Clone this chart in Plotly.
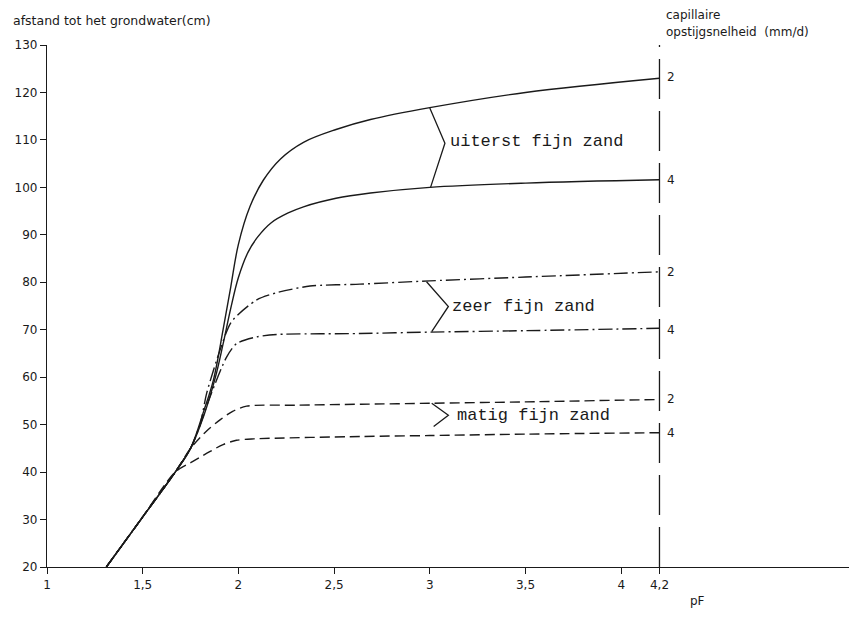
import plotly.graph_objects as go

# ---------------- data ----------------
x_ticks = [1, 1.5, 2, 2.5, 3, 3.5, 4, 4.2]
x_tick_labels = ["1", "1,5", "2", "2,5", "3", "3,5", "4", "4,2"]
y_ticks = [20, 30, 40, 50, 60, 70, 80, 90, 100, 110, 120, 130]

uiterst_2_x = [1.31, 1.49, 1.67, 1.75, 1.82, 1.87, 1.92, 1.96, 2.00, 2.06, 2.13, 2.22, 2.34, 2.51, 2.69, 3.0, 3.5, 4.2]
uiterst_2_y = [20, 30, 40, 45, 53, 59.5, 70, 79, 88, 95.9, 101.5, 106, 109.5, 112.2, 114.3, 116.8, 120, 123]

uiterst_4_x = [1.31, 1.49, 1.67, 1.75, 1.82, 1.88, 1.92, 1.96, 2.00, 2.05, 2.10, 2.17, 2.26, 2.34, 2.51, 2.69, 3.0, 3.5, 4.2]
uiterst_4_y = [20, 30, 40, 45, 52, 60, 67, 74.5, 81, 86.3, 89.5, 92.5, 94.6, 95.9, 97.7, 98.8, 100, 100.9, 101.6]

zeer_2_x = [1.31, 1.49, 1.67, 1.75, 1.80, 1.834, 1.904, 1.964, 2.096, 2.2, 2.374, 2.635, 3.0, 3.5, 4.2]
zeer_2_y = [20, 30, 40, 45, 50, 56.6, 65.7, 71.7, 76.3, 77.8, 79.2, 79.6, 80.3, 81.1, 82.2]

zeer_4_x = [1.31, 1.49, 1.67, 1.75, 1.80, 1.852, 1.939, 1.991, 2.096, 2.2, 2.635, 3.0, 3.5, 4.2]
zeer_4_y = [20, 30, 40, 45, 50, 55.9, 64.3, 67.1, 68.5, 69, 69.2, 69.5, 69.8, 70.3]

matig_2_x = [1.31, 1.49, 1.67, 1.75, 1.83, 1.904, 1.97, 2.043, 2.3, 2.64, 3.0, 3.5, 4.2]
matig_2_y = [20, 30, 40, 45, 48.5, 51, 52.8, 53.9, 54.1, 54.3, 54.5, 54.8, 55.3]

matig_4_x = [1.31, 1.49, 1.67, 1.76, 1.85, 1.92, 1.99, 2.08, 2.64, 3.0, 3.5, 4.2]
matig_4_y = [20, 30, 40, 42.2, 44.3, 45.8, 46.7, 47.0, 47.5, 47.7, 48, 48.3]

brace_uiterst_x = [3.0, 3.079, 3.004]
brace_uiterst_y = [116.7, 109.3, 100]
brace_zeer_x = [2.983, 3.097, 3.01]
brace_zeer_y = [80.1, 74.9, 69.6]
brace_matig_x = [3.01, 3.097, 3.02]
brace_matig_y = [54.5, 52, 49.6]

soil_labels = ["uiterst fijn zand", "zeer fijn zand", "matig fijn zand"]
soil_label_x = [3.095, 3.105, 3.13]
soil_label_y = [109.7, 74.9, 52]

rate_labels = ["2", "4", "2", "4", "2", "4"]
rate_label_y = [123.3, 101.6, 82.2, 70.0, 55.4, 48.2]
x_ref_line = 4.2

# ---------------- figure ----------------
INK = "#1a1a1a"
SANS = "DejaVu Sans, Verdana, sans-serif"
fig = go.Figure()

def curve(x, y, dash, smoothing):
    fig.add_trace(go.Scatter(x=x, y=y, mode="lines",
                             line=dict(color=INK, width=1.4, dash=dash, shape="spline", smoothing=smoothing),
                             showlegend=False, hoverinfo="skip"))

curve(matig_4_x, matig_4_y, "10px,5px", 0.8)
curve(matig_2_x, matig_2_y, "10px,5px", 0.8)
curve(zeer_4_x, zeer_4_y, "14px,4px,2px,4px", 0.7)
curve(zeer_2_x, zeer_2_y, "14px,4px,2px,4px", 0.7)
curve(uiterst_4_x, uiterst_4_y, "solid", 1.0)
curve(uiterst_2_x, uiterst_2_y, "solid", 1.0)

for bx, by in [(brace_uiterst_x, brace_uiterst_y), (brace_zeer_x, brace_zeer_y), (brace_matig_x, brace_matig_y)]:
    fig.add_trace(go.Scatter(x=bx, y=by, mode="lines", line=dict(color=INK, width=1.3),
                             showlegend=False, hoverinfo="skip"))

# vertical reference line at pF 4.2
fig.add_trace(go.Scatter(x=[x_ref_line, x_ref_line], y=[20, 130], mode="lines",
                         line=dict(color=INK, width=1.3, dash="40px,12px"),
                         showlegend=False, hoverinfo="skip"))

for t, x, y in zip(soil_labels, soil_label_x, soil_label_y):
    fig.add_annotation(x=x, y=y, text=t, showarrow=False, xanchor="left", yanchor="middle",
                       font=dict(family="Liberation Mono, Courier New, monospace", size=17, color=INK))

for t, y in zip(rate_labels, rate_label_y):
    fig.add_annotation(x=x_ref_line, y=y, text=t, showarrow=False, xanchor="left", yanchor="middle",
                       xshift=6, font=dict(family=SANS, size=12, color=INK))

# paper-level texts (pixel positions converted to paper coords)
L, T, W, H = 47, 45, 802, 522
def px(xp):
    return (xp - L) / W
def py(yp):
    return (T + H - yp) / H

fig.add_annotation(xref="paper", yref="paper", x=px(11), y=py(20), text="afstand tot het grondwater(cm)",
                   showarrow=False, xanchor="left", yanchor="middle",
                   font=dict(family=SANS, size=12.5, color=INK))
fig.add_annotation(xref="paper", yref="paper", x=px(664), y=py(15), text="capillaire",
                   showarrow=False, xanchor="left", yanchor="middle",
                   font=dict(family=SANS, size=12, color=INK))
fig.add_annotation(xref="paper", yref="paper", x=px(664), y=py(32), text="opstijgsnelheid  (mm/d)",
                   showarrow=False, xanchor="left", yanchor="middle",
                   font=dict(family=SANS, size=12, color=INK))
fig.add_annotation(xref="paper", yref="paper", x=px(697), y=py(601), text="pF",
                   showarrow=False, xanchor="center", yanchor="middle",
                   font=dict(family=SANS, size=12, color=INK))

fig.update_xaxes(range=[1, 1 + W / 191.4], tickvals=x_ticks, ticktext=x_tick_labels,
                 showgrid=False, zeroline=False, showline=True, linecolor=INK, linewidth=1.3,
                 ticks="outside", ticklen=6, tickcolor=INK, tickwidth=1.2,
                 tickfont=dict(family=SANS, size=12, color=INK))
fig.update_yaxes(range=[20, 130], tickvals=y_ticks,
                 showgrid=False, zeroline=False, showline=True, linecolor=INK, linewidth=1.3,
                 ticks="outside", ticklen=6, tickcolor=INK, tickwidth=1.2,
                 tickfont=dict(family=SANS, size=12, color=INK))

fig.update_layout(width=849, height=618, margin=dict(l=L, r=0, t=T, b=618 - T - H),
                  plot_bgcolor="white", paper_bgcolor="white", showlegend=False)

fig.write_html("out.html")
